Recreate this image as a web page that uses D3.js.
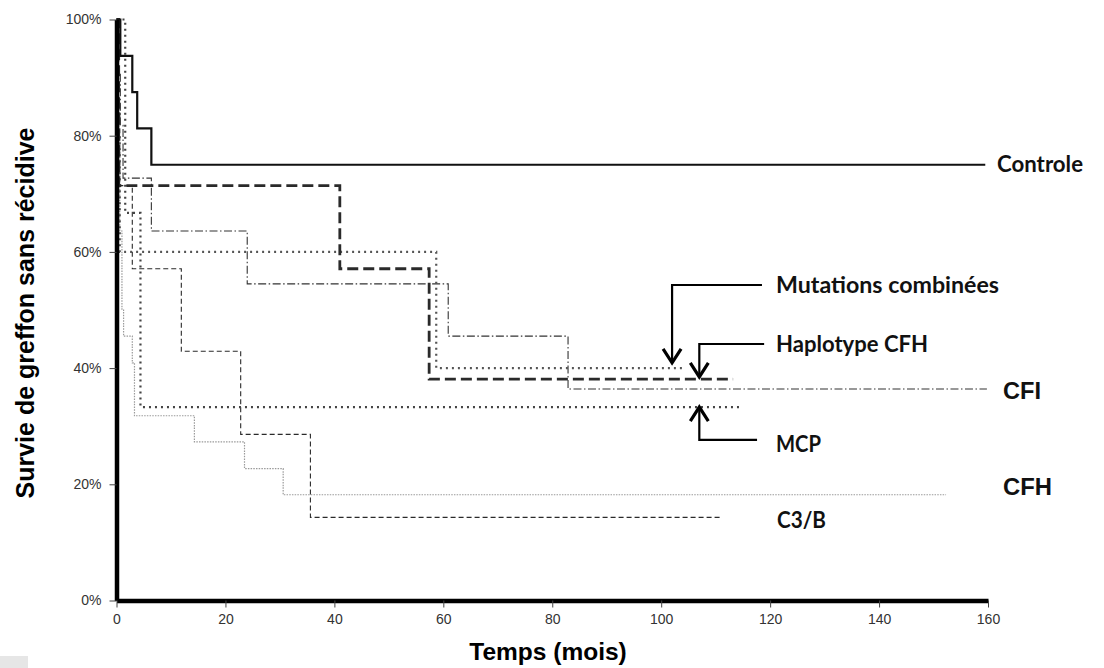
<!DOCTYPE html>
<html>
<head>
<meta charset="utf-8">
<script src="https://cdn.jsdelivr.net/npm/d3@7"></script>
<style>
  body { margin: 0; background: #fff; }
  svg { display: block; }
</style>
</head>
<body>
<script>
// temps (mois) et survie pour chaque groupe
const controleT = [0, 0.7, 2.9, 3.8, 6.4, 159.5];
const controleS = [1, 0.9375, 0.875, 0.8125, 0.75, 0.75];

const haploT = [0, 0.4, 41, 57.4, 113.2];
const haploS = [1, 0.714, 0.571, 0.381, 0.381];

const mutT = [0, 0.3, 0.6, 58.7, 104.4];
const mutS = [1, 0.8, 0.6, 0.4, 0.4];

const mcpT = [0, 1.6, 4.4, 114.9];
const mcpS = [1, 0.667, 0.333, 0.333];

const cfiT = [0, 0.3, 0.7, 1.2, 6.4, 24.0, 60.9, 82.9, 159.8];
const cfiS = [1, 0.909, 0.818, 0.727, 0.636, 0.545, 0.455, 0.364, 0.364];

const cfhT = [0, 0.2, 0.4, 0.6, 1.0, 1.3, 2.9, 3.3, 14.3, 23.5, 30.6, 152.3];
const cfhS = [1, 0.864, 0.773, 0.636, 0.5, 0.455, 0.409, 0.318, 0.273, 0.227, 0.182, 0.182];

const c3bT = [0, 0.3, 0.6, 2.9, 11.9, 22.8, 35.6, 110.8];
const c3bS = [1, 0.857, 0.714, 0.571, 0.429, 0.286, 0.143, 0.143];

const xTicks = [0, 20, 40, 60, 80, 100, 120, 140, 160];
const yTicks = [0, 0.2, 0.4, 0.6, 0.8, 1];

const width = 1104;
const height = 668;

let svg = d3.select('body')
    .append('svg')
    .attr('width', width)
    .attr('height', height);

let x = d3.scaleLinear().domain([0, 160]).range([116.5, 988]);
let y = d3.scaleLinear().domain([0, 1]).range([600.5, 19.5]);

let line = d3.line()
    .x(d => x(d[0]))
    .y(d => y(d[1]))
    .curve(d3.curveStepAfter);

let series = [
    {t: cfhT, s: cfhS, stroke: '#9a9a9a', w: 1.2, dash: '1.5,1.2'},
    {t: c3bT, s: c3bS, stroke: '#2a2a2a', w: 1.1, dash: '5,3'},
    {t: cfiT, s: cfiS, stroke: '#333', w: 1.1, dash: '8,2.5,1.5,2.5'},
    {t: mcpT, s: mcpS, stroke: '#444', w: 2.2, dash: '2,4'},
    {t: mutT, s: mutS, stroke: '#555', w: 2.2, dash: '2,4'},
    {t: haploT, s: haploS, stroke: '#2a2a2a', w: 2.8, dash: '11,5'},
    {t: controleT, s: controleS, stroke: '#111', w: 2.2, dash: null}
];

svg.append('g')
    .selectAll('path')
    .data(series)
    .enter()
    .append('path')
    .attr('d', d => line(d.t.map((v, i) => [v, d.s[i]])))
    .attr('fill', 'none')
    .attr('stroke', d => d.stroke)
    .attr('stroke-width', d => d.w)
    .attr('stroke-dasharray', d => d.dash);

// axes
let yAxis = svg.append('g')
    .attr('transform', `translate(${x(0)},0)`)
    .call(d3.axisLeft(y).tickValues(yTicks).tickFormat(d3.format('.0%')).tickSize(7).tickSizeOuter(0).tickPadding(8));

let xAxis = svg.append('g')
    .attr('transform', `translate(0,${y(0)})`)
    .call(d3.axisBottom(x).tickValues(xTicks).tickSize(7).tickSizeOuter(0).tickPadding(7));

[yAxis, xAxis].forEach(a => {
    a.attr('font-size', 14).attr('font-family', '"Liberation Sans", Arial, sans-serif');
    a.select('.domain').attr('stroke', '#000').attr('stroke-width', 4.5);
    a.selectAll('.tick line').attr('stroke', '#444').attr('stroke-width', 1);
    a.selectAll('.tick text').attr('fill', '#333');
});

svg.append('text')
    .attr('transform', 'translate(34,313) rotate(-90)')
    .attr('text-anchor', 'middle')
    .style('font-family', '"Liberation Sans", Arial, sans-serif')
    .style('font-weight', 'bold')
    .style('font-size', '25px')
    .text('Survie de greffon sans récidive');

svg.append('text')
    .attr('x', 548)
    .attr('y', 660)
    .attr('text-anchor', 'middle')
    .style('font-family', '"Liberation Sans", Arial, sans-serif')
    .style('font-weight', 'bold')
    .style('font-size', '24.5px')
    .text('Temps (mois)');

// étiquettes
let labels = [
    {txt: 'Controle', x: 997, y: 172, f: 'Lato', s: 22, len: 86},
    {txt: 'Mutations combinées', x: 776, y: 293, f: 'Lato', s: 22, len: 223},
    {txt: 'Haplotype CFH', x: 776, y: 352, f: 'Lato', s: 22, len: 152},
    {txt: 'CFI', x: 1003, y: 399, f: '"Liberation Sans"', s: 23, len: 38},
    {txt: 'MCP', x: 776, y: 452, f: 'Lato', s: 22, len: 45},
    {txt: 'CFH', x: 1003, y: 495, f: '"Liberation Sans"', s: 23, len: 49},
    {txt: 'C3/B', x: 777, y: 528, f: 'Lato', s: 22, len: 49}
];

svg.append('g')
    .selectAll('text')
    .data(labels)
    .enter()
    .append('text')
    .attr('x', d => d.x)
    .attr('y', d => d.y)
    .attr('textLength', d => d.len)
    .attr('lengthAdjust', 'spacingAndGlyphs')
    .style('font-family', d => d.f + ', sans-serif')
    .style('font-weight', 'bold')
    .style('font-size', d => d.s + 'px')
    .attr('fill', '#111')
    .text(d => d.txt);

// flèches (temps, survie)
let arrows = [
    {x0: 118.5, yEl: 0.543, tip: 0.409, xa: 102.0, dir: 1},
    {x0: 118.9, yEl: 0.4415, tip: 0.3847, xa: 107.0, dir: 1},
    {x0: 117.6, yEl: 0.2763, tip: 0.333, xa: 107.0, dir: -1}
];

let ag = svg.append('g')
    .attr('fill', 'none')
    .attr('stroke', '#000')
    .attr('stroke-width', 2.2);

arrows.forEach(a => {
    let xa = x(a.xa);
    let ye = y(a.yEl);
    let yt = y(a.tip);
    ag.append('path')
        .attr('d', `M${x(a.x0)},${ye}H${xa}V${yt}`);
    ag.append('path')
        .attr('stroke-width', 3.2)
        .attr('stroke-linejoin', 'miter')
        .attr('d', `M${xa - 9},${yt - 14 * a.dir}L${xa},${yt}L${xa + 9},${yt - 14 * a.dir}`);
});

svg.append('rect')
    .attr('x', 0)
    .attr('y', 656)
    .attr('width', 28)
    .attr('height', 12)
    .attr('fill', '#e6e6e6');
</script>
</body>
</html>
